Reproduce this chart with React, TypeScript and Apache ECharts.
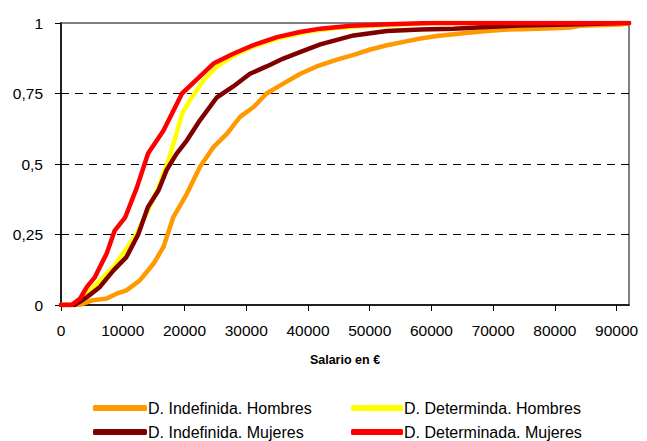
import React, { useEffect, useRef } from "react";
import * as echarts from "echarts";

const FONT = "'Liberation Sans', Arial, sans-serif";

const seriesNames = [
  "D. Indefinida. Hombres",
  "D. Determinda. Hombres",
  "D. Indefinida. Mujeres",
  "D. Determinada. Mujeres",
];
const seriesColors = ["#FF9900", "#FFFF00", "#800000", "#FF0000"];

const xTicks = [0, 10000, 20000, 30000, 40000, 50000, 60000, 70000, 80000, 90000];
const xMax = 92000;
const yTicks = [0, 0.25, 0.5, 0.75, 1];

const indefHombres: [number, number][] = [
  [0, 0], [3000, 0], [5200, 0.017], [7400, 0.023], [9000, 0.04], [10600, 0.052],
  [12800, 0.088], [15000, 0.147], [16600, 0.206], [18200, 0.312], [20400, 0.395],
  [22500, 0.489], [24700, 0.56], [26900, 0.608], [29000, 0.667], [31200, 0.702],
  [33300, 0.75], [36000, 0.785], [38700, 0.819], [41400, 0.846], [44700, 0.87],
  [47400, 0.887], [50100, 0.906], [52800, 0.921], [55500, 0.933], [58200, 0.945],
  [60900, 0.954], [63600, 0.96], [66300, 0.966], [69000, 0.972], [71700, 0.976],
  [74400, 0.978], [79800, 0.981], [82500, 0.984], [84100, 0.99], [90600, 0.995],
  [92000, 1],
];

const detHombres: [number, number][] = [
  [0, 0], [2500, 0], [4200, 0.04], [6300, 0.087], [8500, 0.135], [10600, 0.2],
  [12200, 0.25], [14100, 0.336], [15800, 0.418], [17400, 0.513], [18700, 0.608],
  [19600, 0.678], [21200, 0.737], [23100, 0.797], [25200, 0.844], [28000, 0.885],
  [31000, 0.915], [35000, 0.945], [40000, 0.97], [45000, 0.983], [50000, 0.99],
  [55000, 0.995], [60000, 1], [92000, 1],
];

const indefMujeres: [number, number][] = [
  [0, 0], [2300, 0], [4200, 0.028], [6300, 0.064], [8500, 0.123], [10600, 0.17],
  [12500, 0.25], [14100, 0.348], [15800, 0.407], [17100, 0.478], [18700, 0.536],
  [20400, 0.584], [22500, 0.655], [25200, 0.735], [27900, 0.775], [30600, 0.82],
  [33300, 0.846], [36000, 0.874], [38700, 0.897], [42000, 0.924], [47400, 0.956],
  [52800, 0.972], [58200, 0.977], [63600, 0.98], [69000, 0.986], [74400, 0.991],
  [82500, 0.995], [90600, 1], [92000, 1],
];

const detMujeres: [number, number][] = [
  [0, 0], [1700, 0], [3100, 0.023], [4200, 0.064], [5500, 0.099], [6300, 0.135],
  [7400, 0.183], [8700, 0.264], [10400, 0.311], [12300, 0.417], [14100, 0.537],
  [16600, 0.619], [19600, 0.75], [22000, 0.8], [24700, 0.856], [27900, 0.891],
  [31100, 0.921], [35000, 0.95], [38700, 0.968], [42000, 0.98], [47000, 0.99],
  [53000, 0.996], [60000, 1], [92000, 1],
];

const seriesData = [indefHombres, detHombres, indefMujeres, detMujeres];

// legend placement per series: [left, top]
const legendPos: [number, number][] = [
  [88, 395],
  [346, 395],
  [88, 419],
  [346, 419],
];

export default function App() {
  const ref = useRef<HTMLDivElement>(null);
  useEffect(() => {
    if (!ref.current) return;
    const chart = echarts.init(ref.current, null, { renderer: "svg" });
    const legendText = { fontSize: 16, fontFamily: FONT, color: "#000", padding: [0, 0, 0, -4] };
    chart.setOption({
      animation: false,
      backgroundColor: "#fff",
      grid: {
        left: 61,
        right: 18,
        top: 23,
        bottom: 136,
        show: true,
        borderColor: "#808080",
        borderWidth: 2,
        backgroundColor: "transparent",
      },
      legend: seriesNames.map((n, i) => ({
        left: legendPos[i][0],
        top: legendPos[i][1],
        orient: "horizontal",
        itemWidth: i % 2 === 0 ? 54 : 52,
        itemHeight: 6,
        icon: "roundRect",
        data: [n],
        textStyle: legendText,
      })),
      xAxis: {
        type: "value",
        min: 0,
        max: xMax,
        interval: 10000,
        name: "Salario en €",
        nameLocation: "middle",
        nameGap: 48,
        nameTextStyle: { fontSize: 12.5, fontWeight: "bold", fontFamily: FONT, color: "#000" },
        axisLine: { show: true, onZero: false, lineStyle: { color: "#000", width: 1.5 } },
        axisTick: { show: true, length: 6, customValues: xTicks, lineStyle: { color: "#000" } },
        axisLabel: {
          customValues: xTicks,
          fontSize: 15.5,
          fontFamily: FONT,
          color: "#000",
          margin: 17,
          formatter: (v: number) => String(v),
        },
        splitLine: { show: false },
      },
      yAxis: {
        type: "value",
        min: 0,
        max: 1,
        interval: 0.25,
        axisLine: { show: true, lineStyle: { color: "#000", width: 1.5 } },
        axisTick: { show: true, length: 6, lineStyle: { color: "#000" } },
        axisLabel: {
          customValues: yTicks,
          fontSize: 15.5,
          fontFamily: FONT,
          color: "#000",
          margin: 18,
          formatter: (v: number) => String(v).replace(".", ","),
        },
        splitLine: {
          show: true,
          showMinLine: false,
          showMaxLine: false,
          lineStyle: { color: "#000", width: 1, type: [8, 6] },
        },
      },
      series: seriesData.map((d, i) => ({
        name: seriesNames[i],
        type: "line",
        data: d,
        showSymbol: false,
        symbol: "none",
        color: seriesColors[i],
        lineStyle: { color: seriesColors[i], width: 4.5, cap: "round", join: "round" },
        z: 2 + i,
      })),
    });
    return () => chart.dispose();
  }, []);
  return (
    <div
      ref={ref}
      style={{ position: "absolute", left: 0, top: 0, width: 647, height: 441 }}
    />
  );
}
